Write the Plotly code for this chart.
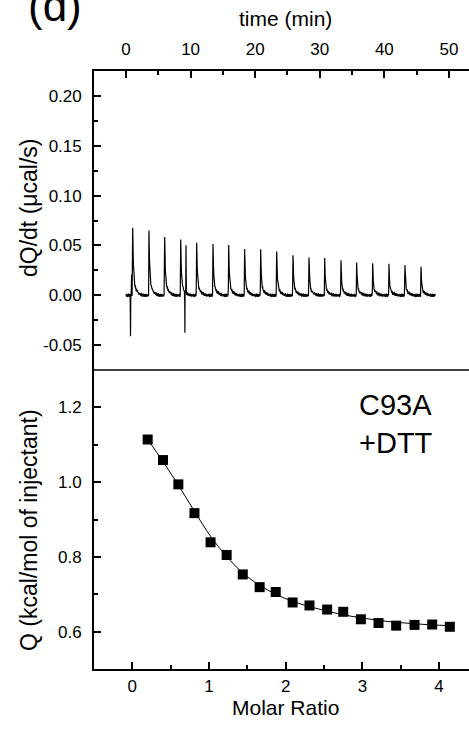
import numpy as np
import plotly.graph_objects as go

# ---- raw thermogram: injection peaks (time in min, peak height in µcal/s)
inj_time = [1.04, 3.56, 5.99, 8.47, 10.94, 13.47, 15.90, 18.37, 20.85, 23.33,
            25.85, 28.33, 30.76, 33.28, 35.71, 38.19, 40.71, 43.19, 45.67]
inj_peak = [0.0686, 0.0653, 0.0602, 0.0572, 0.0542, 0.0525, 0.0489, 0.0462, 0.0452, 0.0432,
            0.0412, 0.0382, 0.0365, 0.0335, 0.0324, 0.0311, 0.0301, 0.0301, 0.0291]

# mixing artefacts (sharp spikes)
spike_time = [0.70, 0.86, 9.12, 9.29]
spike_value = [-0.040, 0.022, -0.041, 0.0485]

# peak shape: fraction of the peak height vs. time after the apex (min)
shape_dt = [-0.06, 0.0, 0.10, 0.20, 0.35, 0.55, 0.80, 1.10, 1.60]
shape_frac = [0.0, 1.0, 0.45, 0.22, 0.14, 0.08, 0.05, 0.02, 0.0]

# baseline jitter (µcal/s)
baseline_noise = [0.0006, -0.0011, 0.0015, -0.0004, -0.0018, 0.0009, 0.0002, -0.0013,
                  0.0017, -0.0007, 0.0004, -0.0016, 0.0011, -0.0002, 0.0008, -0.0012,
                  0.0014, -0.0009, 0.0003, -0.0015, 0.0010, -0.0005, 0.0007, -0.0010]

run_start, run_end = 0.0, 47.9

# ---- integrated heats
molar_ratio = [0.20, 0.40, 0.60, 0.81, 1.02, 1.23, 1.44, 1.66, 1.87, 2.09,
               2.31, 2.54, 2.75, 2.98, 3.21, 3.44, 3.68, 3.91, 4.14]
heat = [1.114, 1.059, 0.994, 0.917, 0.839, 0.805, 0.753, 0.719, 0.706, 0.678,
        0.670, 0.659, 0.653, 0.633, 0.623, 0.616, 0.618, 0.619, 0.613]
fit_heat = [1.114, 1.055, 0.992, 0.922, 0.855, 0.801, 0.757, 0.724, 0.700, 0.681,
            0.667, 0.655, 0.645, 0.637, 0.630, 0.625, 0.621, 0.618, 0.616]

# build the thermogram trace
t = np.union1d(np.arange(run_start, run_end, 0.05), np.array(inj_time + spike_time))
sig = np.resize(np.array(baseline_noise), t.size).astype(float)
for tp, h in zip(inj_time, inj_peak):
    sig += h * np.interp(t - tp, shape_dt, shape_frac, left=0.0, right=0.0)
for ts, v in zip(spike_time, spike_value):
    sig += v * np.interp(t - ts, [-0.03, 0.0, 0.03], [0.0, 1.0, 0.0], left=0.0, right=0.0)

W, H = 469, 729
x0 = 94 / W
y_top, y_mid, y_bot = 1 - 71 / H, 1 - 370 / H, 1 - 669 / H

FONT = "Arial, Liberation Sans, sans-serif"
LW = 1.7
TICK_SIZE = 17
TITLE_SIZE = 21

fig = go.Figure()
fig.add_trace(go.Scatter(x=t, y=sig, xaxis="x2", yaxis="y2", mode="lines",
                         line=dict(color="black", width=1.2), showlegend=False))
fig.add_trace(go.Scatter(x=molar_ratio, y=fit_heat, mode="lines",
                         line=dict(color="black", width=1, shape="spline"), showlegend=False))
fig.add_trace(go.Scatter(x=molar_ratio, y=heat, mode="markers",
                         marker=dict(symbol="square", size=10, color="black"), showlegend=False))

axis_common = dict(showline=True, linecolor="black", linewidth=LW, ticks="inside",
                   tickcolor="black", tickwidth=LW, ticklen=7, showgrid=False,
                   zeroline=False, tickfont=dict(family=FONT, size=TICK_SIZE, color="black"))


def minor_ticks(vals):
    return dict(tickvals=vals, ticks="inside", ticklen=4, tickwidth=LW, tickcolor="black")


dq_ticks = [-0.05, 0.0, 0.05, 0.10, 0.15, 0.20]
dq_text = ["-0.05", "0.00", "0.05", "0.10", "0.15", "0.20"]

fig.update_layout(
    width=W, height=H, margin=dict(l=0, r=0, t=0, b=0),
    paper_bgcolor="white", plot_bgcolor="white",
    xaxis=dict(domain=[x0, 1], range=[-0.5, 4.39], anchor="y", side="bottom",
               tickvals=[0, 1, 2, 3, 4], ticklabelstandoff=1,
               minor=minor_ticks([0.5, 1.5, 2.5, 3.5]), **axis_common),
    yaxis=dict(domain=[y_bot, y_mid], range=[0.5, 1.3], anchor="x",
               tickvals=[0.6, 0.8, 1.0, 1.2], tickformat=".1f", ticklabelstandoff=7,
               minor=minor_ticks([0.7, 0.9, 1.1]), **axis_common),
    xaxis2=dict(domain=[x0, 1], range=[-4.95, 53.1], anchor="y2", side="top",
                tickvals=[0, 10, 20, 30, 40, 50], ticklabelstandoff=7,
                minor=minor_ticks([5, 15, 25, 35, 45]), **axis_common),
    yaxis2=dict(domain=[y_mid, y_top], range=[-0.075, 0.225], anchor="x2",
                tickvals=dq_ticks, ticktext=dq_text, ticklabelstandoff=7,
                minor=minor_ticks([-0.025, 0.025, 0.075, 0.125, 0.175]), **axis_common),
    shapes=[dict(type="line", xref="paper", yref="paper", x0=x0, x1=1, y0=y_mid, y1=y_mid,
                 line=dict(color="black", width=LW))],
)

ann = [
    dict(text="(d)", x=55 / W, y=1 - 5 / H, font=dict(size=44)),
    dict(text="time (min)", x=285 / W, y=1 - 19 / H, font=dict(size=TITLE_SIZE)),
    dict(text="Molar Ratio", x=285 / W, y=1 - 707 / H, font=dict(size=TITLE_SIZE)),
    dict(text="dQ/dt (μcal/s)", x=29 / W, y=1 - 208 / H, textangle=-90,
         font=dict(size=23)),
    dict(text="Q (kcal/mol of injectant)", x=29 / W, y=1 - 530 / H,
         textangle=-90, font=dict(size=23)),
    dict(text="C93A<br>+DTT", x=357 / W, y=1 - 424 / H, xanchor="left", align="left",
         font=dict(size=29)),
]
for a in ann:
    a.setdefault("xanchor", "center")
    a["yanchor"] = "middle"
    a["xref"] = a["yref"] = "paper"
    a["showarrow"] = False
    a["font"].update(family=FONT, color="black")
    fig.add_annotation(**a)

fig.write_html("out.html")
